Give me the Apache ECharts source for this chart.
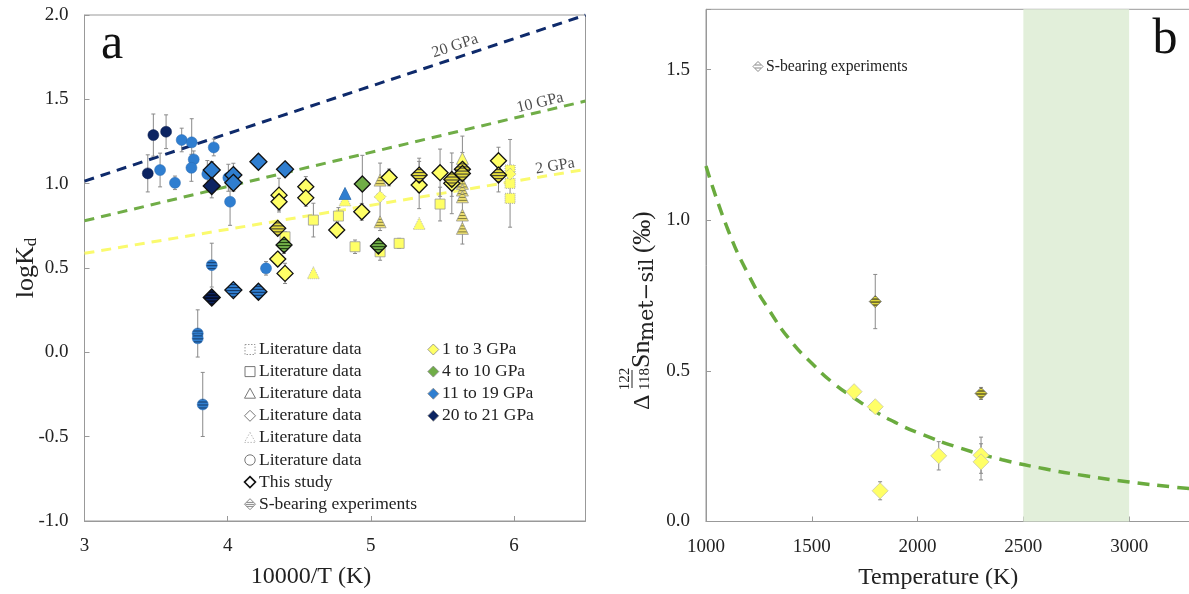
<!DOCTYPE html>
<html><head><meta charset="utf-8">
<script src="https://cdn.jsdelivr.net/npm/echarts@6/dist/echarts.min.js"></script>
<style>html,body{margin:0;padding:0;background:#fff}#c{width:1189px;height:594px}</style>
</head><body><div id="c"></div>
<script>
// ---------------- DATA (panel a): [10000/T, logKd, error] ----------------
const litCircleBlue = [[3.679,1.259,0.07],[3.749,1.245,0.14],[3.763,1.144,0.05],[3.747,1.094,0.08],[3.528,1.081,0.10],[3.632,1.005,0.04],[3.903,1.215,0.05],[4.017,0.893,0.14],[4.005,1.035,0.08],[3.858,1.057,0.08],[4.268,0.498,0.04]];
const litCircleNavy = [[3.481,1.288,0.125],[3.570,1.308,0.10],[3.442,1.061,0.11]];
const litCircleBlueS = [[3.889,0.517,0.13],[3.791,0.112,0.14],[3.791,0.083,0],[3.826,-0.309,0.19]];
const litSquareYellow = [[4.599,0.784,0.10],[4.774,0.808,0.05],[4.890,0.626,0.04],[4.401,0.685,0.03],[5.065,0.596,0.05],[5.198,0.646,0.03],[5.484,0.879,0.10]];
const litSquareDotYellow = [[5.973,1.081,0],[5.973,1.002,0.26],[5.973,0.913,0]];
const litDiamondDotYellow = [[5.973,1.057,0],[5.065,0.922,0.2]];
const litTriYellow = [[5.640,1.150,0]];
const litTriYellowS = [[5.065,1.021,0],[5.065,0.774,0],[5.640,1.002,0],[5.640,0.962,0.32],[5.640,0.922,0],[5.640,0.814,0],[5.640,0.735,0]];
const litTriDotYellow = [[4.599,0.472,0],[4.820,0.903,0],[5.338,0.764,0]];
const litTriBlue = [[4.820,0.942,0]];
const ts1to3 = [[4.359,0.932,0.10],[4.359,0.893,0.05],[4.546,0.982,0.06],[4.546,0.916,0.05],[4.937,0.833,0.05],[4.762,0.725,0.03],[4.350,0.553,0.04],[4.401,0.468,0.06],[5.128,1.037,0.05],[5.338,0.992,0.14],[5.484,1.065,0.14],[5.566,1.002,0.18],[5.892,1.136,0.08]];
const ts4to10 = [[4.941,0.998,0.17]];
const ts11to19 = [[3.889,1.081,0.05],[4.040,1.051,0.07],[4.040,1.005,0.05],[4.215,1.130,0.04],[4.401,1.085,0.03]];
const ts20to21 = [[3.889,0.986,0.07]];
const tsS1to3 = [[4.350,0.735,0.03],[5.338,1.051,0.10],[5.566,1.025,0.10],[5.640,1.085,0.10],[5.640,1.060,0],[5.892,1.051,0.10]];
const tsS4to10 = [[4.394,0.636,0.05],[5.053,0.630,0.04]];
const tsS11to19 = [[4.040,0.369,0.03],[4.215,0.359,0.02]];
const tsS20to21 = [[3.889,0.325,0.04]];
// pressure reference lines [x, logKd]
const line20GPa = [[3,1.015],[6.5,2.0]];
const line10GPa = [[3,0.78],[6.5,1.49]];
const line2GPa = [[3,0.587],[6.5,1.085]];
const lineLabels = ['20 GPa','10 GPa','2 GPa'];
const lineLabelAt = [[5.589,1.816],[6.183,1.480],[6.288,1.104]];
const xTicksA = [3,4,5,6];
const yTicksA = [-1.0,-0.5,0.0,0.5,1.0,1.5,2.0];
const legendLit = ['Literature data','Literature data','Literature data','Literature data','Literature data','Literature data','This study','S-bearing experiments'];
const legendP = ['1 to 3 GPa','4 to 10 GPa','11 to 19 GPa','20 to 21 GPa'];

// ---------------- DATA (panel b) ----------------
const bTemp = [1700,1800,1823,2100,2300,2300];
const bDelta = [0.431,0.381,0.102,0.218,0.220,0.198];
const bErr = [0,0,0.03,0.047,0.06,0.06];
const bSTemp = [1800,2300];
const bSDelta = [0.730,0.425];
const bSErr = [0.09,0.02];
const curveT = [1000,1100,1200,1300,1400,1500,1600,1700,1800,1900,2000,2200,2400,2600,2800,3000,3200,3290];
const curveV = [1.18,0.975,0.82,0.70,0.60,0.525,0.46,0.41,0.365,0.327,0.295,0.244,0.205,0.175,0.151,0.131,0.115,0.109];
const bandRange = [2500,3000];

// ---------------- STYLE ----------------
const FONT = '"Liberation Serif","Times New Roman",serif';
const YEL='#ffff66', GRN='#70ad47', BLU='#2f7ed0', NAV='#0c2462';
function stripes(base, line, size){
  const cv=document.createElement('canvas'); cv.width=4; cv.height=3;
  const g=cv.getContext('2d'); g.fillStyle=base; g.fillRect(0,0,4,3);
  g.fillStyle=line; g.fillRect(0,0,4,1);
  const s=2/size;
  return {image:cv, repeat:'repeat', scaleX:s, scaleY:s};
}
function sc(data, symbol, size, fill, stroke, bw, dotted, z, ax){
  return {type:'scatter', xAxisIndex:ax, yAxisIndex:ax, z:z, symbol:symbol, symbolSize:size,
    data:data.map(d=>[d[0],d[1]]), silent:true,
    itemStyle:{color:fill, borderColor:stroke, borderWidth:bw, borderType:dotted?'dotted':'solid', opacity:1}};
}
function errSeries(data, ax){
  return {type:'custom', xAxisIndex:ax, yAxisIndex:ax, z:2, silent:true, data:data,
    renderItem:function(p, api){
      const x=api.value(0), y=api.value(1), e=api.value(2);
      if(!e) return null;
      const t=api.coord([x,y+e]), b=api.coord([x,y-e]);
      const st={stroke:'#8a8a8a', lineWidth:1};
      return {type:'group', children:[
        {type:'line', shape:{x1:t[0],y1:t[1],x2:b[0],y2:b[1]}, style:st},
        {type:'line', shape:{x1:t[0]-2,y1:t[1],x2:t[0]+2,y2:t[1]}, style:st},
        {type:'line', shape:{x1:b[0]-2,y1:b[1],x2:b[0]+2,y2:b[1]}, style:st}
      ]};
    }};
}
function axisBase(){
  return {axisLine:{show:true, onZero:false, lineStyle:{color:'#999'}},
    axisTick:{show:true, inside:true, length:5, lineStyle:{color:'#999'}},
    splitLine:{show:false},
    axisLabel:{color:'#222', fontSize:19, fontFamily:FONT, margin:16}};
}
function onStep(v, step){ return Math.abs(v/step - Math.round(v/step))<1e-6; }

const allErrA = [].concat(litCircleBlue,litCircleNavy,litCircleBlueS,litSquareYellow,litSquareDotYellow,litDiamondDotYellow,litTriYellow,litTriYellowS,litTriDotYellow,litTriBlue,ts1to3,ts4to10,ts11to19,ts20to21,tsS1to3,tsS4to10,tsS11to19,tsS20to21);
const allErrB = bTemp.map((t,i)=>[t,bDelta[i],bErr[i]]).concat(bSTemp.map((t,i)=>[t,bSDelta[i],bSErr[i]]));

const xA = Object.assign(axisBase(), {type:'value', gridIndex:0, min:xTicksA[0], max:6.5, interval:1,
  name:'10000/T (K)', nameLocation:'middle', nameGap:44,
  nameTextStyle:{fontSize:24, fontFamily:FONT, color:'#222', padding:[0,48,0,0]}});
xA.axisLabel.formatter = v => xTicksA.includes(v) ? String(v) : '';
const yA = Object.assign(axisBase(), {type:'value', gridIndex:0, min:yTicksA[0], max:yTicksA[yTicksA.length-1], interval:0.5,
  name:'{a|logK}{b|d}', nameLocation:'middle', nameGap:44, nameMoveOverlap:false,
  nameTextStyle:{color:'#222', rich:{a:{fontSize:26, fontFamily:FONT, color:'#222'}, b:{fontSize:17, fontFamily:FONT, color:'#222', padding:[12,0,0,0]}}}});
yA.axisLabel.formatter = v => v.toFixed(1);
const xB = Object.assign(axisBase(), {type:'value', gridIndex:1, min:1000, max:3290, interval:500,
  name:'Temperature (K)', nameLocation:'middle', nameGap:44,
  nameTextStyle:{fontSize:24, fontFamily:FONT, color:'#222', padding:[0,20,0,0]}});
xB.axisLabel.formatter = v => onStep(v,500) ? String(v) : '';
const yB = Object.assign(axisBase(), {type:'value', gridIndex:1, min:0, max:1.7, interval:0.5});
yB.axisLabel.formatter = v => onStep(v,0.5) ? v.toFixed(1) : '';

const lineStyleFor = (c)=>({color:c, width:3, type:[10,7]});
const series = [
  {type:'line', xAxisIndex:0, yAxisIndex:0, data:line20GPa, symbol:'none', z:1, silent:true, lineStyle:lineStyleFor('#0e2a6b')},
  {type:'line', xAxisIndex:0, yAxisIndex:0, data:line10GPa, symbol:'none', z:1, silent:true, lineStyle:lineStyleFor('#70ad47')},
  {type:'line', xAxisIndex:0, yAxisIndex:0, data:line2GPa, symbol:'none', z:1, silent:true, lineStyle:lineStyleFor('#fafa6e')},
  {type:'scatter', xAxisIndex:0, yAxisIndex:0, symbolSize:0, z:5, silent:true,
    data: lineLabelAt.map((p,i)=>({value:p, label:{show:true, formatter:lineLabels[i], rotate:[18.4,13.5,9.5][i], position:'inside', fontSize:16, fontFamily:FONT, color:'#222'}}))},
  errSeries(allErrA, 0),
  sc(litCircleNavy,'circle',11,NAV,'#0a1c4c',0.5,false,3,0),
  sc(litCircleBlue,'circle',11,BLU,'#2a6bb0',0.5,false,3,0),
  sc(litCircleBlueS,'circle',11,stripes(BLU,'#163a66',11),'#2a6bb0',0.5,false,3,0),
  sc(litSquareYellow,'rect',10,YEL,'#999',0.8,false,3,0),
  sc(litSquareDotYellow,'rect',10,YEL,'#aaa',1,true,3,0),
  sc(litDiamondDotYellow,'diamond',12,YEL,'#aaa',1,true,3,0),
  sc(litTriYellowS,'triangle',12,stripes('#eee070','#7f7a3a',12),'#999',0.8,false,3,0),
  sc(litTriYellow,'triangle',12,YEL,'#999',0.8,false,3,0),
  sc(litTriDotYellow,'triangle',12,YEL,'#bbb',1,true,3,0),
  sc(litTriBlue,'triangle',12,BLU,'#2a6bb0',0.8,false,3,0),
  sc(ts1to3,'diamond',16,YEL,'#111',1.3,false,4,0),
  sc(ts4to10,'diamond',16,GRN,'#111',1.3,false,4,0),
  sc(ts11to19,'diamond',17,BLU,'#111',1.3,false,4,0),
  sc(ts20to21,'diamond',17,NAV,'#111',1.3,false,4,0),
  sc(tsS1to3,'diamond',16,stripes('#e5dc3c','#333',16),'#111',1.3,false,4,0),
  sc(tsS4to10,'diamond',16,stripes(GRN,'#1d3a10',16),'#111',1.3,false,4,0),
  sc(tsS11to19,'diamond',17,stripes(BLU,'#10305a',17),'#111',1.3,false,4,0),
  sc(tsS20to21,'diamond',17,stripes(NAV,'#000',17),'#111',1.3,false,4,0),
  // panel b
  {type:'line', xAxisIndex:1, yAxisIndex:1, data:[], z:0, silent:true,
    markArea:{silent:true, itemStyle:{color:'#e2efda'}, data:[[{xAxis:bandRange[0]},{xAxis:bandRange[1]}]]}},
  {type:'line', xAxisIndex:1, yAxisIndex:1, data:curveT.map((t,i)=>[t,curveV[i]]), smooth:true, symbol:'none', z:1, silent:true,
    lineStyle:{color:'#6aab3e', width:3.5, type:[12,8]}},
  errSeries(allErrB, 1),
  sc(bTemp.map((t,i)=>[t,bDelta[i]]),'diamond',16,YEL,'#c8c8a8',0.8,false,3,1),
  sc(bSTemp.map((t,i)=>[t,bSDelta[i]]),'diamond',12,stripes('#e0d83a','#222',12),'#666',0.8,false,4,1)
];

// legend + panel labels (graphic)
const G = [];
function icon(kind, cx, cy){
  const s=5.5;
  const dia=[[cx,cy-s],[cx+s,cy],[cx,cy+s],[cx-s,cy]];
  switch(kind){
    case 'sqDot': return {type:'rect', shape:{x:cx-5,y:cy-5,width:10,height:10}, style:{fill:'#fff',stroke:'#999',lineWidth:1,lineDash:[1.5,1.5]}};
    case 'sq': return {type:'rect', shape:{x:cx-5,y:cy-5,width:10,height:10}, style:{fill:'#fff',stroke:'#777',lineWidth:1}};
    case 'tri': return {type:'polygon', shape:{points:[[cx,cy-s],[cx+s,cy+4.5],[cx-s,cy+4.5]]}, style:{fill:'#fff',stroke:'#777',lineWidth:1}};
    case 'dia': return {type:'polygon', shape:{points:dia}, style:{fill:'#fff',stroke:'#777',lineWidth:1}};
    case 'triDot': return {type:'polygon', shape:{points:[[cx,cy-s],[cx+s,cy+4.5],[cx-s,cy+4.5]]}, style:{fill:'#fff',stroke:'#bbb',lineWidth:1,lineDash:[1.5,1.5]}};
    case 'circ': return {type:'circle', shape:{cx:cx,cy:cy,r:5.2}, style:{fill:'#fff',stroke:'#777',lineWidth:1}};
    case 'diaBlack': return {type:'polygon', shape:{points:dia}, style:{fill:'#fff',stroke:'#111',lineWidth:1.6}};
    case 'diaStripe': return {type:'group', children:[
      {type:'polygon', shape:{points:dia}, style:{fill:'#fff',stroke:'#888',lineWidth:1}},
      {type:'line', shape:{x1:cx-3.5,y1:cy-1.8,x2:cx+3.5,y2:cy-1.8}, style:{stroke:'#888',lineWidth:1}},
      {type:'line', shape:{x1:cx-4.5,y1:cy+0.2,x2:cx+4.5,y2:cy+0.2}, style:{stroke:'#888',lineWidth:1}},
      {type:'line', shape:{x1:cx-3.5,y1:cy+2.2,x2:cx+3.5,y2:cy+2.2}, style:{stroke:'#888',lineWidth:1}}]};
  }
}
const kinds=['sqDot','sq','tri','dia','triDot','circ','diaBlack','diaStripe'];
legendLit.forEach((t,i)=>{
  const y=349.5+i*22.1;
  G.push(icon(kinds[i],250,y));
  G.push({type:'text', style:{text:t, x:259, y:y, font:'17.5px '+FONT, fill:'#222', verticalAlign:'middle'}});
});
[YEL,GRN,BLU,NAV].forEach((c,i)=>{
  const y=349.5+i*22.1, cx=433.3, s=5.5;
  G.push({type:'polygon', shape:{points:[[cx,y-s],[cx+s,y],[cx,y+s],[cx-s,y]]}, style:{fill:c,stroke:'#888',lineWidth:0.8}});
  G.push({type:'text', style:{text:legendP[i], x:442, y:y, font:'17.5px '+FONT, fill:'#222', verticalAlign:'middle'}});
});
// panel b legend
(function(){
  const cx=758, cy=66.5, s=5;
  G.push({type:'group', children:[
    {type:'polygon', shape:{points:[[cx,cy-s],[cx+s,cy],[cx,cy+s],[cx-s,cy]]}, style:{fill:'#fff',stroke:'#888',lineWidth:1}},
    {type:'line', shape:{x1:cx-3,y1:cy-1.5,x2:cx+3,y2:cy-1.5}, style:{stroke:'#888',lineWidth:1}},
    {type:'line', shape:{x1:cx-3,y1:cy+1.5,x2:cx+3,y2:cy+1.5}, style:{stroke:'#888',lineWidth:1}}]});
  G.push({type:'text', style:{text:'S-bearing experiments', x:766, y:cy, font:'15.7px '+FONT, fill:'#222', verticalAlign:'middle'}});
})();
G.push({type:'text', style:{text:'a', x:112, y:45, font:'50px '+FONT, fill:'#111', align:'center', verticalAlign:'middle'}});
G.push({type:'text', style:{text:'b', x:1165, y:40, font:'50px '+FONT, fill:'#111', align:'center', verticalAlign:'middle'}});
// panel b y-axis title (rotated)
G.push({type:'group', x:651, y:410, rotation:Math.PI/2, children:[
  {type:'text', style:{text:'Δ', x:0, y:-8, font:'24px '+FONT, fill:'#222', verticalAlign:'middle'}},
  {type:'text', style:{text:'122', x:31, y:-26, font:'15px '+FONT, fill:'#222', align:'center', verticalAlign:'middle'}},
  {type:'line', shape:{x1:22,y1:-19,x2:40,y2:-19}, style:{stroke:'#222', lineWidth:1}},
  {type:'text', style:{text:'118', x:31, y:-6, font:'15px '+FONT, fill:'#222', align:'center', verticalAlign:'middle'}},
  {type:'text', style:{text:'Sn', x:42, y:-8.6, font:'26px '+FONT, fill:'#222', verticalAlign:'middle'}},
  {type:'text', style:{text:'met\u2212sil', x:69, y:-3, font:'21px "DejaVu Serif",serif', fill:'#222', verticalAlign:'middle'}},
  {type:'text', style:{text:'(\u2030)', x:157, y:-8, font:'25px '+FONT, fill:'#222', verticalAlign:'middle'}}
]});

const chart = echarts.init(document.getElementById('c'), null, {renderer:'canvas'});
chart.setOption({
  animation:false,
  backgroundColor:'#fff',
  grid:[
    {left:84.5, top:15, width:501, height:506, show:true, borderColor:'#999', borderWidth:1, backgroundColor:'transparent', outerBoundsMode:'none', containLabel:false},
    {left:706, top:9.3, width:484.5, height:512.2, show:true, borderColor:'#999', borderWidth:1, backgroundColor:'transparent', outerBoundsMode:'none', containLabel:false}
  ],
  xAxis:[xA, xB],
  yAxis:[yA, yB],
  series:series,
  graphic:G
});
</script></body></html>
